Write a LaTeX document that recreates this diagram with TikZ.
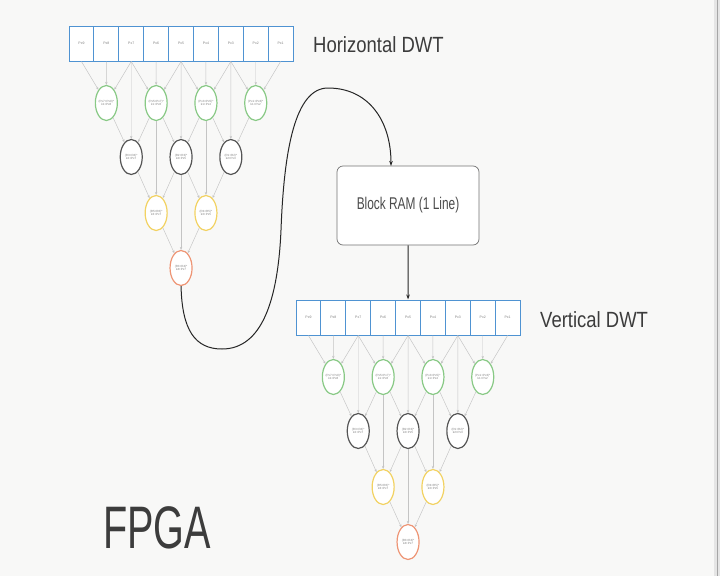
\documentclass[tikz,border=0pt]{standalone}
\usepackage{fontspec}
\setmainfont{Liberation Sans}
\usetikzlibrary{arrows.meta,shapes.geometric}
\definecolor{bgc}{HTML}{F8F8F7}
\definecolor{cellblue}{HTML}{4F93D2}
\definecolor{egreen}{HTML}{88C985}
\definecolor{edark}{HTML}{555555}
\definecolor{eyellow}{HTML}{F2D262}
\definecolor{eorange}{HTML}{EE9575}
\definecolor{wiregray}{HTML}{C4C4C4}
\definecolor{txtgray}{HTML}{3C3C3C}
\tikzset{
  cell/.style={draw=cellblue, line width=1pt, fill=white, minimum width=24.9pt,
    minimum height=35pt, inner sep=0pt, font=\fontsize{3.5}{4}\selectfont, text=gray},
  ell/.style={ellipse, line width=1.2pt, minimum width=22pt, minimum height=35pt,
    inner sep=0pt, align=center, font=\fontsize{3}{3.8}\selectfont, text=gray, fill=white},
  eg/.style={ell, draw=egreen},
  ed/.style={ell, draw=edark},
  ey/.style={ell, draw=eyellow},
  eo/.style={ell, draw=eorange},
  wire/.style={draw=wiregray, line width=0.45pt, -{Stealth[length=3pt,width=2.4pt]}},
  title/.style={anchor=west, text=txtgray, inner sep=0pt},
  flow/.style={draw=black!85, line width=1pt, -{Stealth[length=5pt,width=3.5pt]}},
}
\newcommand\dwttree[3]{%
\begin{scope}[shift={(#2,#3)}, name prefix=#1-]
  \foreach \i [count=\k from 0] in {9,8,7,6,5,4,3,2,1}
    \node[cell] (c\i) at ({81.45+24.9*\k},43.5) {Px\i};
  \node[eg] (g1) at (106.35,103) {(Px7+Px9)*\\k1+Px8};
  \node[eg] (g2) at (156.15,103) {(Px5+Px7)*\\k1+Px6};
  \node[eg] (g3) at (205.95,103) {(Px3+Px5)*\\k1+Px4};
  \node[eg] (g4) at (255.75,103) {(Px1+Px3)*\\k1+Px2};
  \node[ed] (d1) at (131.25,157) {(R3+R4)*\\k2+Px7};
  \node[ed] (d2) at (181.05,157) {(R2+R3)*\\k2+Px5};
  \node[ed] (d3) at (230.85,157) {(R1+R2)*\\k2+Px3};
  \node[ey] (y1) at (156.15,213) {(R5+R6)*\\k3+Px7};
  \node[ey] (y2) at (205.95,213) {(R4+R5)*\\k3+Px5};
  \node[eo] (o) at (181.05,268) {(R3+R4)*\\k4+Px7};
  \draw[wire] (c9.south) -- (g1); \draw[wire] (c8.south) -- (g1); \draw[wire] (c7.south) -- (g1);
  \draw[wire] (c7.south) -- (g2); \draw[wire] (c6.south) -- (g2); \draw[wire] (c5.south) -- (g2);
  \draw[wire] (c5.south) -- (g3); \draw[wire] (c4.south) -- (g3); \draw[wire] (c3.south) -- (g3);
  \draw[wire] (c3.south) -- (g4); \draw[wire] (c2.south) -- (g4); \draw[wire] (c1.south) -- (g4);
  \draw[wire] (g1) -- (d1); \draw[wire] (c7.south) -- (d1); \draw[wire] (g2) -- (d1);
  \draw[wire] (g2) -- (d2); \draw[wire] (c5.south) -- (d2); \draw[wire] (g3) -- (d2);
  \draw[wire] (g3) -- (d3); \draw[wire] (c3.south) -- (d3); \draw[wire] (g4) -- (d3);
  \draw[wire] (d1) -- (y1); \draw[wire] (g2) -- (y1); \draw[wire] (d2) -- (y1);
  \draw[wire] (d2) -- (y2); \draw[wire] (g3) -- (y2); \draw[wire] (d3) -- (y2);
  \draw[wire] (y1) -- (o); \draw[wire] (d2) -- (o); \draw[wire] (y2) -- (o);
\end{scope}}
\begin{document}
\begin{tikzpicture}[x=1pt,y=-1pt]
  \useasboundingbox (0,0) rectangle (720,576);
  \fill[bgc] (0,0) rectangle (720,576);
  \fill[black!10] (714,0) rectangle (720,576);
  \fill[black!35] (716.5,0) rectangle (718,576);
  \dwttree{t}{0}{0}
  \dwttree{b}{227}{274}
  \node[title, font=\fontsize{22}{24}\selectfont] (htitle) at (313,45) {\scalebox{0.84}[1]{Horizontal DWT}};
  \node[title, font=\fontsize{22}{24}\selectfont] (vtitle) at (540,320) {\scalebox{0.84}[1]{Vertical DWT}};
  \node[title, font=\fontsize{60}{64}\selectfont] (fpga) at (103,528) {\scalebox{0.66}[1]{FPGA}};
  \node[draw=black!55, line width=0.7pt, rounded corners=6pt, fill=white,
        minimum width=142pt, minimum height=79pt, text=black!70,
        font=\fontsize{17}{19}\selectfont] (ram) at (408,205.5) {\scalebox{0.7}[1]{Block RAM (1 Line)}};
  \coordinate (ramin) at (391,166);
  \draw[flow] (t-o.south) .. controls (182,330) and (195,349) .. (222,349)
     .. controls (262,349) and (278,300) .. (281,230)
     .. controls (284,150) and (295,88) .. (328,88)
     .. controls (368,88) and (391,120) .. (ramin);
  \draw[flow] (ram.south) -- (b-c5.north);
\end{tikzpicture}
\end{document}
